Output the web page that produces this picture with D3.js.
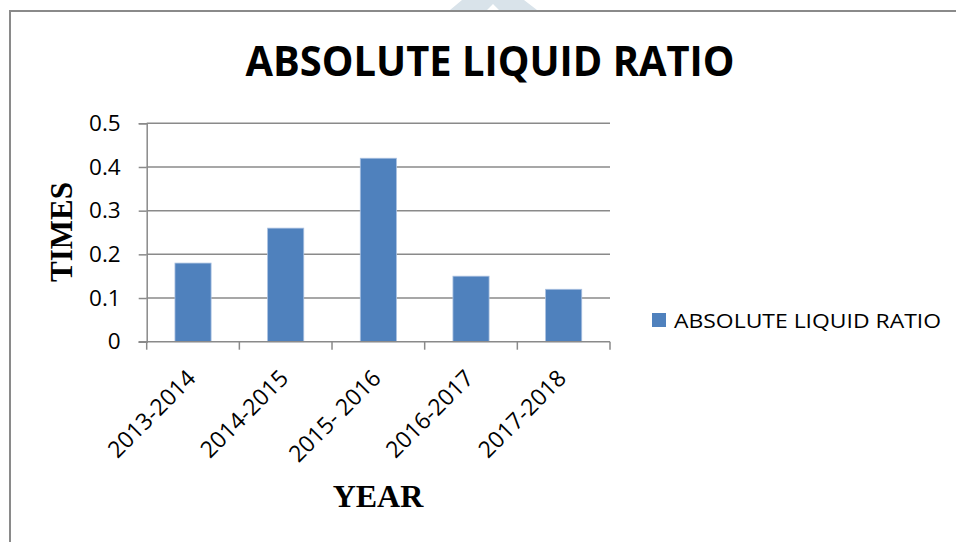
<!DOCTYPE html>
<html>
<head>
<meta charset="utf-8">
<script src="https://cdn.jsdelivr.net/npm/d3@7"></script>
<style>
  html, body { margin: 0; padding: 0; background: #fff; }
  svg { display: block; }
</style>
</head>
<body>
<svg id="chart" width="956" height="542"></svg>
<script>
const categories = ["2013-2014", "2014-2015", "2015- 2016", "2016-2017", "2017-2018"];
const values = [0.18, 0.26, 0.42, 0.15, 0.12];
const yTicks = [0, 0.1, 0.2, 0.3, 0.4, 0.5];
const seriesName = "ABSOLUTE LIQUID RATIO";
const chartTitle = "ABSOLUTE LIQUID RATIO";
const xTitle = "YEAR";
const yTitle = "TIMES";

const svg = d3.select("#chart");
const gridColor = "#8a8a8a";
const barColor = "#4F81BD";
const sansFont = "'Open Sans', 'Noto Sans', sans-serif";
const serifFont = "'Liberation Serif', 'DejaVu Serif', serif";

// faint watermark at top
svg.append("path")
  .attr("d", "M450,10 L462,0 L524,0 L537,10 L499,10 L493,4 L487,10 Z")
  .attr("fill", "#d9e3ea");

// outer frame (left and top edges visible)
svg.append("path")
  .attr("d", "M10,542 L10,11 L956,11")
  .attr("fill", "none")
  .attr("stroke", gridColor)
  .attr("stroke-width", 2);

// title
svg.append("text")
  .attr("x", 490).attr("y", 76)
  .attr("text-anchor", "middle")
  .attr("font-family", sansFont)
  .attr("font-weight", "bold")
  .attr("font-size", 41)
  .attr("textLength", 489)
  .attr("lengthAdjust", "spacingAndGlyphs")
  .attr("fill", "#000")
  .text(chartTitle);

const plot = { left: 146.7, right: 610, top: 123.3, bottom: 341.7 };

const x = d3.scaleBand()
  .domain(categories)
  .range([plot.left, plot.right])
  .paddingInner(0)
  .paddingOuter(0);

const y = d3.scaleLinear()
  .domain([0, 0.5])
  .range([plot.bottom, plot.top]);

// y axis
const yAxis = d3.axisLeft(y)
  .tickValues(yTicks)
  .tickSize(8)
  .tickPadding(18)
  .tickFormat(d => d === 0 ? "0" : d3.format(".1f")(d));

const gY = svg.append("g")
  .attr("transform", `translate(${plot.left},0)`)
  .call(yAxis);
gY.select(".domain").attr("stroke", gridColor).attr("stroke-width", 1.5);
gY.selectAll(".tick line").attr("stroke", gridColor).attr("stroke-width", 1.5);
gY.selectAll(".tick text")
  .attr("font-family", sansFont)
  .attr("font-size", 22.5)
  .attr("fill", "#000");

// horizontal gridlines
svg.append("g")
  .selectAll("line")
  .data(yTicks.filter(d => d > 0))
  .join("line")
  .attr("x1", plot.left).attr("x2", plot.right)
  .attr("y1", d => y(d)).attr("y2", d => y(d))
  .attr("stroke", gridColor)
  .attr("stroke-width", 1.5);

// bars
const barFrac = 0.39;
svg.append("g")
  .selectAll("rect")
  .data(values)
  .join("rect")
  .attr("x", (d, i) => x(categories[i]) + x.bandwidth() * (1 - barFrac) / 2)
  .attr("width", x.bandwidth() * barFrac)
  .attr("y", d => y(d))
  .attr("height", d => y(0) - y(d))
  .attr("fill", barColor)
  .attr("stroke", "#a9c0e0")
  .attr("stroke-width", 0.8);

// x axis line with boundary ticks
const xAxisG = svg.append("g");
xAxisG.append("line")
  .attr("x1", plot.left - 8).attr("x2", plot.right)
  .attr("y1", y(0)).attr("y2", y(0))
  .attr("stroke", gridColor).attr("stroke-width", 1.5);
const boundaries = categories.map(c => x(c)).concat([x(categories[categories.length - 1]) + x.bandwidth()]);
xAxisG.selectAll("line.tk")
  .data(boundaries)
  .join("line")
  .attr("class", "tk")
  .attr("x1", d => d).attr("x2", d => d)
  .attr("y1", y(0)).attr("y2", y(0) + 8)
  .attr("stroke", gridColor).attr("stroke-width", 1.5);

// rotated category labels
xAxisG.selectAll("text")
  .data(categories)
  .join("text")
  .attr("transform", d => `translate(${x(d) + x.bandwidth() / 2 + 4},${y(0) + 38}) rotate(-45)`)
  .attr("text-anchor", "end")
  .attr("font-family", sansFont)
  .attr("font-size", 23)
  .attr("fill", "#000")
  .text(d => d);

// axis titles
svg.append("text")
  .attr("x", 378).attr("y", 507)
  .attr("text-anchor", "middle")
  .attr("font-family", serifFont)
  .attr("font-weight", "bold")
  .attr("font-size", 32)
  .attr("fill", "#000")
  .text(xTitle);

svg.append("text")
  .attr("transform", "translate(72,232) rotate(-90)")
  .attr("text-anchor", "middle")
  .attr("font-family", serifFont)
  .attr("font-weight", "bold")
  .attr("font-size", 31)
  .attr("fill", "#000")
  .text(yTitle);

// legend
const legend = svg.append("g");
legend.append("rect")
  .attr("x", 652).attr("y", 313)
  .attr("width", 14).attr("height", 14)
  .attr("fill", barColor);
legend.append("text")
  .attr("x", 674).attr("y", 327.5)
  .attr("font-family", sansFont)
  .attr("font-size", 20.5)
  .attr("textLength", 267)
  .attr("lengthAdjust", "spacingAndGlyphs")
  .attr("fill", "#000")
  .text(seriesName);
</script>
</body>
</html>
